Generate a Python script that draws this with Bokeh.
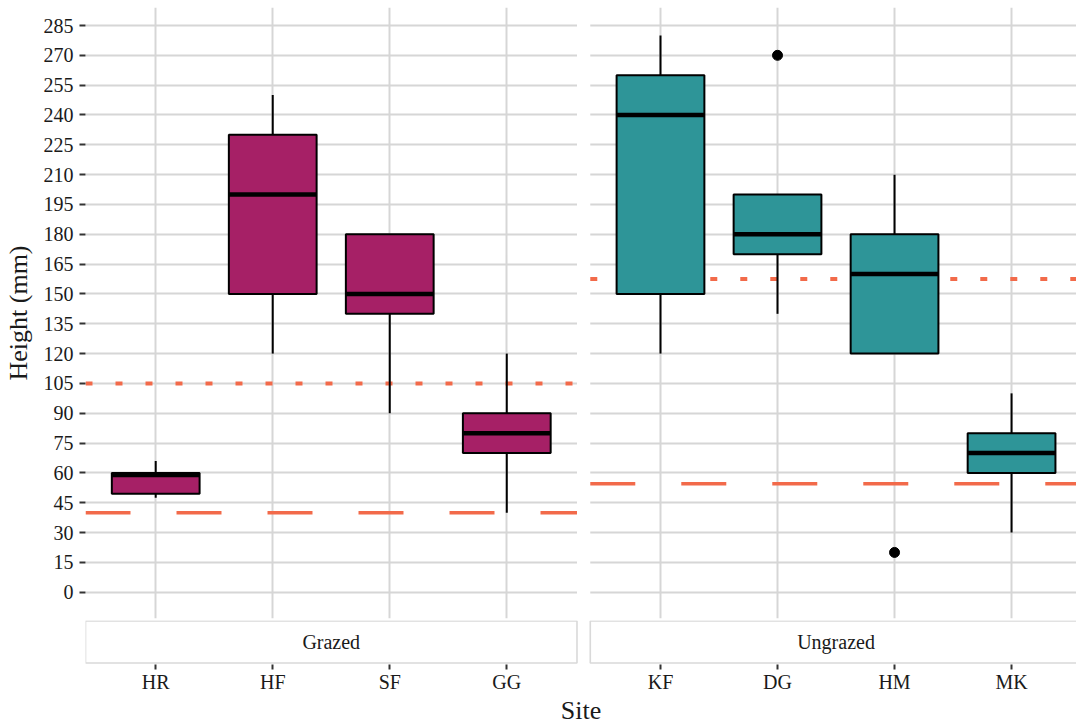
from bokeh.plotting import figure
from bokeh.layouts import column
from bokeh.models import Range1d, FixedTicker, ColumnDataSource
from bokeh.core.properties import value
from bokeh.embed import file_html
from bokeh.resources import INLINE

# ---------------- data ----------------
sites = ["HR", "HF", "SF", "GG", "KF", "DG", "HM", "MK"]
treatment = ["Grazed", "Grazed", "Grazed", "Grazed",
             "Ungrazed", "Ungrazed", "Ungrazed", "Ungrazed"]
whisker_low = [47.5, 120, 90, 40, 120, 140, 120, 30]
q1 = [49.5, 150, 140, 70, 150, 170, 120, 60]
median = [59, 200, 150, 80, 240, 180, 160, 70]
q3 = [60, 230, 180, 90, 260, 200, 180, 80]
whisker_high = [66, 250, 180, 120, 280, 200, 210, 100]

outlier_sites = ["DG", "HM"]
outlier_values = [270, 20]

panels = ["Grazed", "Ungrazed"]
ref_dashed = [40, 54.5]
ref_dotted = [105, 157.5]

y_ticks = [0, 15, 30, 45, 60, 75, 90, 105, 120, 135, 150, 165, 180,
           195, 210, 225, 240, 255, 270, 285]

# ---------------- styling / layout ----------------
FONT = "Liberation Serif"
fill_colors = {"Grazed": "#A62066", "Ungrazed": "#2E9598"}
REF_COLOR = "#F26A4A"
GRID_COLOR = "#D6D6D6"
TEXT_COLOR = "#1A1A1A"

n_per_panel = 4
expand = 0.6
panel_width = n_per_panel - 1 + 2 * expand          # 4.2 units
px_per_unit = 117.14
panel_gap = 13.3 / px_per_unit
panel_offset = panel_width + panel_gap

W = 1076
frame_left, frame_right = 84, 1076
H1 = 620                     # top figure: panels
panel_top, panel_bottom = 7, 618
H2 = 727 - H1                # bottom figure: strips + x axis
strip_frame_h = 45

x_start = 1 - expand
x_end = x_start + (frame_right - frame_left) / px_per_unit
xr = Range1d(x_start, x_end)

# y mapping: value 285 at pixel 25, value 0 at pixel 591.7
ppu_y = (591.7 - 25.0) / 285.0
y_top = 285 + (25.0 - panel_top) / ppu_y
y_bottom = -(panel_bottom - 591.7) / ppu_y

def xpos(site):
    i = sites.index(site)
    k = panels.index(treatment[i])
    return (i % n_per_panel) + 1 + k * panel_offset

x_pos = [xpos(s) for s in sites]
box_w = 0.75
strip_left = [x_start + k * panel_offset for k in range(len(panels))]
strip_right = [l + panel_width for l in strip_left]

# ================= top figure (panels) =================
p = figure(width=W, height=H1, output_backend="svg", toolbar_location=None,
           x_range=xr, y_range=Range1d(y_bottom, y_top),
           min_border_left=frame_left, min_border_right=W - frame_right,
           min_border_top=panel_top, min_border_bottom=H1 - panel_bottom)
p.outline_line_color = None
p.background_fill_color = "white"
p.border_fill_color = "white"
p.xaxis.visible = False

p.xgrid.ticker = FixedTicker(ticks=x_pos)
p.ygrid.ticker = FixedTicker(ticks=y_ticks)
for g in (p.xgrid, p.ygrid):
    g.grid_line_color = GRID_COLOR
    g.grid_line_width = 2
    g.minor_grid_line_color = None

# white gap between the two panels
p.quad(left=[x_start + panel_width], right=[x_start + panel_offset],
       bottom=[y_bottom - 10], top=[y_top + 10], fill_color="white", line_color=None)

# reference lines
p.segment(x0=strip_left, x1=strip_right, y0=ref_dashed, y1=ref_dashed,
          line_color=REF_COLOR, line_width=3.5, line_dash="45 46")
p.segment(x0=strip_left, x1=strip_right, y0=ref_dotted, y1=ref_dotted,
          line_color=REF_COLOR, line_width=4, line_dash="7 23")

# boxplots
src = ColumnDataSource(dict(
    x=x_pos, lo=whisker_low, q1=q1, med=median, q3=q3, hi=whisker_high,
    x0=[x - box_w / 2 for x in x_pos], x1=[x + box_w / 2 for x in x_pos],
    fill=[fill_colors[t] for t in treatment]))
p.segment(x0="x", x1="x", y0="q3", y1="hi", source=src, line_color="black", line_width=2)
p.segment(x0="x", x1="x", y0="lo", y1="q1", source=src, line_color="black", line_width=2)
p.vbar(x="x", width=box_w, bottom="q1", top="q3", source=src, fill_color="fill",
       line_color="black", line_width=2)
p.segment(x0="x0", x1="x1", y0="med", y1="med", source=src, line_color="black",
          line_width=4.5)
p.scatter(x=[xpos(s) for s in outlier_sites], y=outlier_values, size=10,
          fill_color="black", line_color="black")

p.yaxis.ticker = FixedTicker(ticks=y_ticks)
p.yaxis.axis_label = "Height (mm)"
p.yaxis.axis_label_text_font = FONT
p.yaxis.axis_label_text_font_size = "26px"
p.yaxis.axis_label_text_font_style = "normal"
p.yaxis.axis_label_text_color = TEXT_COLOR
p.yaxis.axis_label_standoff = 8
p.yaxis.major_tick_out = 6
p.yaxis.major_label_standoff = 6

# ================= bottom figure (strips + x axis) =================
q = figure(width=W, height=H2, output_backend="svg", toolbar_location=None,
           x_range=xr, y_range=Range1d(0, strip_frame_h),
           min_border_left=frame_left, min_border_right=W - frame_right,
           min_border_top=0, min_border_bottom=H2 - strip_frame_h)
q.outline_line_color = None
q.background_fill_color = "white"
q.border_fill_color = "white"
q.yaxis.visible = False
q.xgrid.visible = False
q.ygrid.visible = False

q.quad(left=strip_left, right=strip_right, bottom=1.5, top=44.5,
       fill_color="white", line_color="#D9D9D9", line_width=1.6)
q.text(x=[(l + r) / 2 for l, r in zip(strip_left, strip_right)], y=23.5,
       text=panels, text_align="center", text_baseline="middle",
       text_font=value(FONT), text_font_size="20px", text_color=TEXT_COLOR)

q.xaxis.ticker = FixedTicker(ticks=x_pos)
q.xaxis.major_label_overrides = {x: s for x, s in zip(x_pos, sites)}
q.xaxis.axis_label = "Site"
q.xaxis.axis_label_text_font = FONT
q.xaxis.axis_label_text_font_size = "26px"
q.xaxis.axis_label_text_font_style = "normal"
q.xaxis.axis_label_text_color = TEXT_COLOR
q.xaxis.axis_label_standoff = 0
q.xaxis.major_tick_out = 5
q.xaxis.major_label_standoff = 1

for ax in (p.yaxis, q.xaxis):
    ax.axis_line_color = None
    ax.major_tick_line_color = "#333333"
    ax.major_tick_line_width = 2
    ax.major_tick_in = 0
    ax.minor_tick_line_color = None
    ax.major_label_text_font = FONT
    ax.major_label_text_font_size = "20px"
    ax.major_label_text_color = TEXT_COLOR

layout = column(p, q, spacing=0)
open("out.html", "w").write(file_html(layout, INLINE))
